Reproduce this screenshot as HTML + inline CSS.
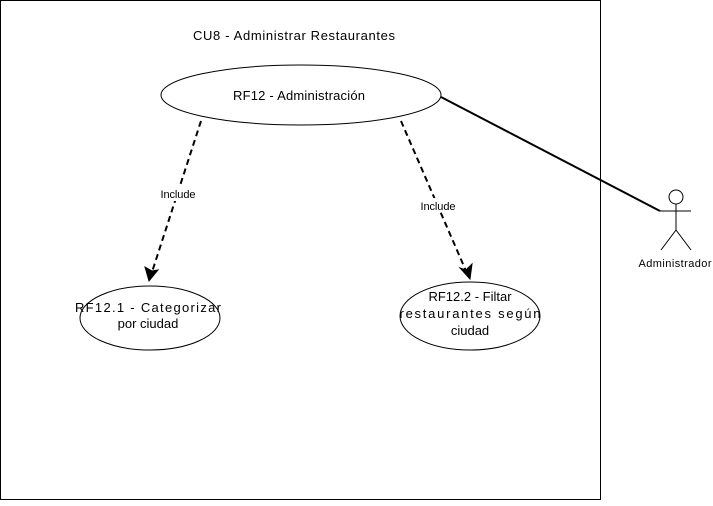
<!DOCTYPE html>
<html><head><style>body{margin:0;background:#fff}</style></head><body>
<svg width="713" height="501" xmlns="http://www.w3.org/2000/svg" font-family="Liberation Sans, sans-serif">
<rect x="0.5" y="0.5" width="600" height="499" fill="#fff" stroke="#000"/>
<text x="294" y="40" font-size="13" text-anchor="middle" textLength="202">CU8 - Administrar Restaurantes</text>
<ellipse cx="301" cy="95" rx="140" ry="30" fill="#fff" stroke="#000"/>
<text x="299" y="100" font-size="13" text-anchor="middle" textLength="132">RF12 - Administración</text>
<ellipse cx="150" cy="318" rx="70" ry="32" fill="#fff" stroke="#000"/>
<text x="148" y="312" font-size="13" text-anchor="middle" textLength="146">RF12.1 - Categorizar</text>
<text x="148" y="328" font-size="13" text-anchor="middle">por ciudad</text>
<ellipse cx="470" cy="316" rx="70" ry="34" fill="#fff" stroke="#000"/>
<text x="470" y="301" font-size="13" text-anchor="middle">RF12.2 - Filtar</text>
<text x="470" y="318" font-size="13" text-anchor="middle" textLength="141">restaurantes según</text>
<text x="470" y="335" font-size="13" text-anchor="middle">ciudad</text>
<line x1="201" y1="121" x2="152" y2="272" stroke="#000" stroke-width="2" stroke-dasharray="6,4"/>
<polygon points="149,281 145,267 152,271 158,270" fill="#000" stroke="#000"/>
<rect x="158" y="187" width="40" height="14" fill="#fff"/>
<text x="178" y="198" font-size="11" text-anchor="middle" textLength="35">Include</text>
<line x1="401" y1="121" x2="466" y2="271" stroke="#000" stroke-width="2" stroke-dasharray="6,4"/>
<polygon points="470,279 460,268 466,270 472,264" fill="#000" stroke="#000"/>
<rect x="418" y="198" width="40" height="14" fill="#fff"/>
<text x="438" y="210" font-size="11" text-anchor="middle" textLength="35">Include</text>
<line x1="441" y1="97" x2="660" y2="211" stroke="#000" stroke-width="2"/>
<circle cx="676" cy="197" r="7" fill="#fff" stroke="#000"/>
<line x1="676" y1="204" x2="676" y2="230" stroke="#000"/>
<line x1="660" y1="211" x2="691" y2="211" stroke="#000"/>
<line x1="676" y1="230" x2="661" y2="250" stroke="#000"/>
<line x1="676" y1="230" x2="691" y2="250" stroke="#000"/>
<text x="675" y="267" font-size="11" text-anchor="middle" textLength="73">Administrador</text>
</svg>
</body></html>
